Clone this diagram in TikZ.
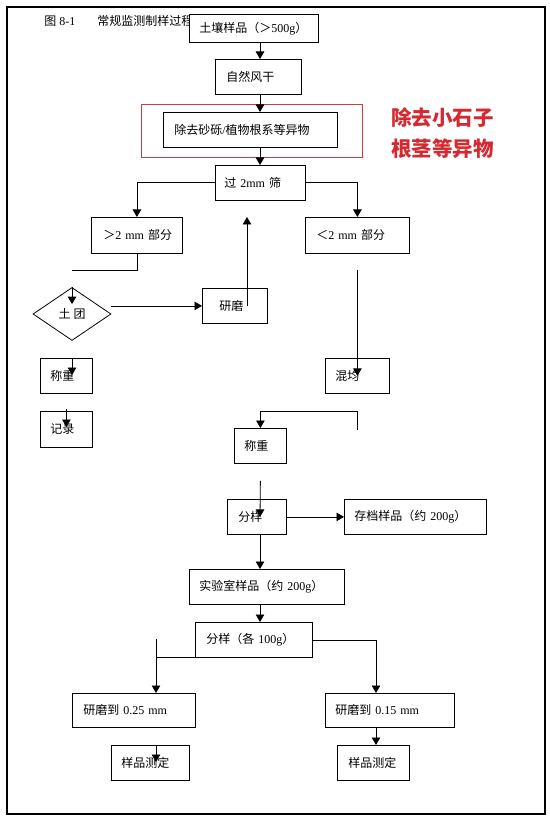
\documentclass[tikz,border=0pt]{standalone}
\usepackage{fontspec}
\setmainfont{Liberation Serif}
\newfontfamily\cjk{Noto Sans CJK SC}
\usepackage{tikz}
\usetikzlibrary{arrows.meta, shapes.geometric, positioning}
\definecolor{notered}{RGB}{214,40,48}
\definecolor{framered}{RGB}{196,64,64}
\newcommand{\zh}[1]{{\cjk #1}}
\tikzset{stage/.style={draw, anchor=north west, align=left, inner xsep=10pt, inner ysep=0pt,
    font=\fontsize{12}{14}\selectfont}}

\begin{document}
\begin{tikzpicture}[x=1pt, y=-1pt, >={Triangle[length=7.5pt,width=8.5pt]}, line width=0.8pt]
    \useasboundingbox (0,0) rectangle (549,826);
    \draw[line width=1.2pt] (7,7) rectangle (545,814);

    \node[anchor=west, inner sep=0pt, font=\fontsize{12}{14}\selectfont] (txt-fig) at (44,21) {\zh{图} 8-1};
    \node[anchor=west, inner sep=0pt, font=\fontsize{12}{14}\selectfont] (txt-title) at (97,21) {\zh{常规监测制样过程}};

    \node[stage, fill=white, text width=109pt, minimum height=28pt] (box-soil) at (189,14) {\zh{土壤样品（＞}500g\zh{）}};
    \node[stage, text width=64pt, inner xsep=11pt, minimum height=35pt] (box-dry) at (215,59) {\zh{自然风干}};

    \node[draw=framered, anchor=north west, minimum width=221pt, minimum height=53pt] (box-note) at (141,104) {};
    \node[stage, text width=152pt, inner xsep=11pt, minimum height=35pt] (box-remove) at (163,112) {\zh{除去砂砾}/\zh{植物根系等异物}};
    \node[anchor=west, inner sep=0pt, align=left, text=notered,
      font=\fontsize{20.5}{31}\selectfont\cjk\bfseries] (txt-note) at (391,133.5) {除去小石子\\根茎等异物};

    \node[stage, text width=72pt, inner xsep=9pt, minimum height=35pt] (box-sieve) at (215,165) {\zh{过} 2mm \zh{筛}};
    \node[stage, text width=67pt, inner xsep=12pt, minimum height=36pt] (box-coarse) at (91,217) {\mbox{\zh{＞}2 mm \zh{部分}}};
    \node[stage, text width=82pt, inner xsep=11pt, minimum height=36pt] (box-fine) at (305,217) {\mbox{\zh{＜}2 mm \zh{部分}}};

    \node[draw, diamond, minimum width=78pt, minimum height=53pt, inner sep=0pt,
      font=\fontsize{12}{14}\selectfont] (box-clod) at (72,314) {\zh{土} \zh{团}};
    \node[stage, text width=31pt, inner xsep=17pt, minimum height=35pt] (box-grind) at (202,288) {\zh{研磨}};
    \node[stage, text width=32pt, minimum height=35pt] (box-weighL) at (40,358) {\zh{称重}};
    \node[stage, text width=32pt, minimum height=36pt] (box-record) at (40,411) {\zh{记录}};
    \node[stage, text width=44pt, minimum height=35pt] (box-mix) at (325,358) {\zh{混均}};

    \node[stage, text width=32pt, minimum height=35pt] (box-weighM) at (234,428) {\zh{称重}};
    \node[stage, text width=37pt, inner xsep=11pt, minimum height=35pt] (box-split) at (227,499) {\zh{分样}};
    \node[stage, text width=122pt, minimum height=35pt] (box-archive) at (344,499) {\zh{存档样品（约} 200g\zh{）}};
    \node[stage, text width=135pt, minimum height=35pt] (box-lab) at (189,569) {\zh{实验室样品（约} 200g\zh{）}};
    \node[stage, text width=95pt, inner xsep=11pt, minimum height=35pt] (box-split2) at (195,622) {\zh{分样（各} 100g\zh{）}};

    \node[stage, text width=101pt, inner xsep=11pt, minimum height=34pt] (box-grindA) at (72,693) {\zh{研磨到} 0.25 mm};
    \node[stage, text width=109pt, minimum height=34pt] (box-grindB) at (325,693) {\zh{研磨到} 0.15 mm};
    \node[stage, text width=58pt, minimum height=35pt] (box-testA) at (111,745) {\zh{样品测定}};
    \node[stage, text width=50pt, inner xsep=11pt, minimum height=35pt] (box-testB) at (337,745) {\zh{样品测定}};

    \coordinate (axis) at (260,0);
    \coordinate (c-lump) at (72,270);
    \coordinate (c-up) at (247,306);
    \coordinate (c-left) at (156,639);
    \coordinate (c-right) at (376,639);

    \draw[->] (box-soil.south -| axis) -- (box-dry.north -| axis);
    \draw[->] (box-dry.south -| axis) -- (box-remove.north -| axis);
    \draw[->] (box-remove.south -| axis) -- (box-sieve.north -| axis);

    \draw[->] (box-sieve.west) -| (box-coarse.north);
    \draw[->] (box-sieve.east) -| (box-fine.north);

    \draw (box-coarse.south) |- (c-lump);
    \draw[->] (box-clod.north) -- ++(0,17);
    \draw[->] (box-grind.west -| box-clod.east) -- (box-grind.west);
    \draw[->] (c-up) -- (c-up |- box-coarse.north);
    \draw[->] (box-weighL.north -| box-clod) -- ++(0,17);
    \draw[->] ([yshift=2pt]box-record.north) -- ++(0,18);

    \draw[->] ([yshift=-16pt]box-fine.south) -- (box-mix.center);
    \draw[->] ([yshift=-36pt]box-mix.south) -- ([yshift=-18pt]box-mix.south) -| (box-weighM.north);
    \draw[->] ([yshift=-17pt]box-weighM.south) -- (box-split.center -| axis);
    \draw[->] (box-split.east) -- (box-archive.west);
    \draw[->] (box-split.south -| axis) -- (box-lab.north -| axis);
    \draw[->] (box-lab.south -| axis) -- (box-split2.north -| axis);

    \draw (box-split2.south west) -- (c-left |- box-split2.south);
    \draw[->] (c-left) -- (c-left |- box-grindA.north);
    \draw[->] (box-split2.east) -| (c-right |- box-grindB.north);
    \draw[->] (c-left |- box-testA.north) -- ++(0,17);
    \draw[->] (box-grindB.south -| c-right) -- (box-testB.north -| c-right);
\end{tikzpicture}
\end{document}
